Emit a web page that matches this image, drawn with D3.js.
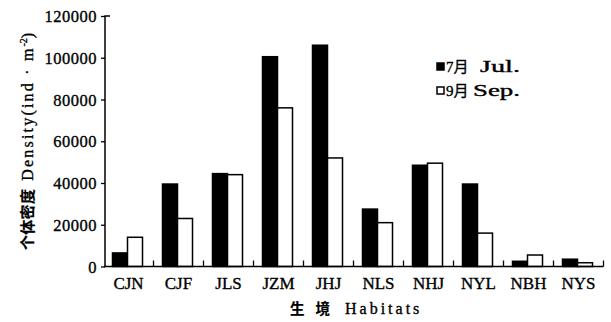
<!DOCTYPE html>
<html>
<head>
<meta charset="utf-8">
<script src="https://cdn.jsdelivr.net/npm/d3@7"></script>
<style>
  body { margin: 0; background: #fff; }
  svg text { font-family: "Liberation Serif", "Noto Sans CJK SC", serif; font-weight: normal; fill: #000; stroke: #000; stroke-width: 0.35px; }
  svg text .cjk { font-family: "Noto Sans CJK SC", sans-serif; font-weight: bold; stroke-width: 0.2px; }
</style>
</head>
<body>
<div id="chart"></div>
<script>
const habitats = ["CJN", "CJF", "JLS", "JZM", "JHJ", "NLS", "NHJ", "NYL", "NBH", "NYS"];
const julValues = [6500, 39500, 44500, 100500, 106000, 27500, 48500, 39500, 2500, 3500];
const sepValues = [14000, 23000, 44000, 76000, 52000, 21000, 49500, 16000, 5500, 1800];
const yTicks = [0, 20000, 40000, 60000, 80000, 100000, 120000];
const seriesNames = [["7月", "Jul."], ["9月", "Sep."]];

const width = 611, height = 322;
const svg = d3.select("#chart").append("svg")
    .attr("width", width)
    .attr("height", height);

const x = d3.scaleBand().domain(habitats).range([103.5, 603.5]).paddingInner(0).paddingOuter(0);
const y = d3.scaleLinear().domain([0, 120000]).range([266.5, 16]);
const inner = d3.scaleBand().domain([0, 1]).range([9, 39]).padding(0);

const rows = habitats.map((h, i) => ({ h, vals: [julValues[i], sepValues[i]] }));

// bars
const groups = svg.append("g").selectAll("g")
    .data(rows)
    .join("g")
    .attr("transform", d => `translate(${x(d.h)},0)`);

groups.selectAll("rect")
    .data(d => d.vals)
    .join("rect")
    .attr("x", (d, i) => inner(i))
    .attr("y", d => y(d))
    .attr("width", inner.bandwidth())
    .attr("height", d => y(0) - y(d))
    .attr("fill", (d, i) => i === 0 ? "#000" : "#fff")
    .attr("stroke", "#000")
    .attr("stroke-width", 1.5);

// x axis: baseline with upward ticks at category boundaries
const xAxisG = svg.append("g");
xAxisG.append("line")
    .attr("x1", 104).attr("x2", x.range()[1])
    .attr("y1", y(0)).attr("y2", y(0))
    .attr("stroke", "#000").attr("stroke-width", 1.5);
xAxisG.selectAll(".bt")
    .data(habitats)
    .join("line")
    .attr("x1", d => x(d) + x.bandwidth())
    .attr("x2", d => x(d) + x.bandwidth())
    .attr("y1", y(0)).attr("y2", y(0) - 6)
    .attr("stroke", "#000").attr("stroke-width", 1.3);
xAxisG.selectAll("text")
    .data(habitats)
    .join("text")
    .attr("x", d => x(d) + x.bandwidth() / 2)
    .attr("y", 288.5)
    .attr("text-anchor", "middle")
    .attr("font-size", 17)
    .text(d => d);

// y axis
const yAxis = d3.axisLeft(y).tickValues(yTicks).tickSize(4).tickPadding(4).tickFormat(d3.format("d"));
const yG = svg.append("g").attr("transform", "translate(105,0)").call(yAxis);
yG.select(".domain").attr("stroke-width", 1.5).attr("d", `M0,${y(0)}V${y(120000)}h5`);
yG.selectAll(".tick line").attr("stroke-width", 1.3);
yG.selectAll(".tick text")
    .attr("font-size", 16.5)
    .attr("letter-spacing", 0.5)
    .attr("dy", "0.34em")
    .style("font-family", "Liberation Serif, serif");

// axis titles
const xTitle = svg.append("text")
    .attr("x", 290).attr("y", 314)
    .attr("font-size", 16);
xTitle.append("tspan").attr("class", "cjk").attr("font-size", 14.5).attr("letter-spacing", 11).text("生境");
xTitle.append("tspan").attr("dx", 4).attr("letter-spacing", 3).text("Habitats");

const yTitle = svg.append("text")
    .attr("transform", "translate(33,250) rotate(-90)")
    .attr("font-size", 16);
yTitle.append("tspan").attr("class", "cjk").attr("font-size", 15).attr("letter-spacing", 0.3).text("个体密度");
yTitle.append("tspan").attr("dx", 8).attr("letter-spacing", 2.2).text("Density(ind · m");
yTitle.append("tspan").attr("font-size", 10).attr("dy", -6).text("-2");
yTitle.append("tspan").attr("dy", 6).text(")");

// legend
const legend = svg.append("g").selectAll("g")
    .data(seriesNames)
    .join("g")
    .attr("transform", (d, i) => `translate(437,${67 + i * 24})`);
legend.append("rect")
    .attr("x", 0).attr("y", -4).attr("width", 7).attr("height", 7)
    .attr("fill", (d, i) => i === 0 ? "#000" : "#fff")
    .attr("stroke", "#000").attr("stroke-width", 1.5);
legend.append("text")
    .attr("x", 9).attr("y", 5)
    .attr("font-size", 15)
    .text(d => d[0]);
legend.append("text")
    .attr("x", (d, i) => i === 0 ? 43 : 36)
    .attr("y", 5)
    .attr("font-size", 16)
    .attr("textLength", (d, i) => i === 0 ? 40 : 47)
    .attr("lengthAdjust", "spacingAndGlyphs")
    .text(d => d[1]);
</script>
</body>
</html>
